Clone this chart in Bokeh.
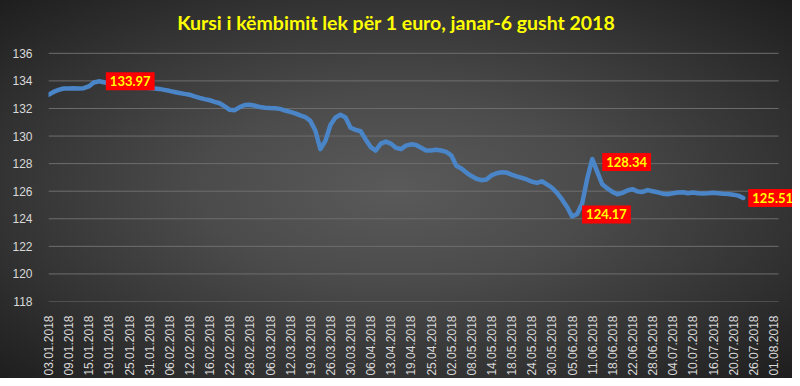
import math
from bokeh.plotting import figure
from bokeh.models import Range1d, FixedTicker, Label, ColumnDataSource
from bokeh.embed import file_html
from bokeh.resources import INLINE

# ---- data ----
tick_labels = ["03.01.2018", "09.01.2018", "15.01.2018", "19.01.2018", "25.01.2018",
               "31.01.2018", "06.02.2018", "12.02.2018", "16.02.2018", "22.02.2018",
               "28.02.2018", "06.03.2018", "12.03.2018", "19.03.2018", "26.03.2018",
               "30.03.2018", "06.04.2018", "13.04.2018", "19.04.2018", "25.04.2018",
               "02.05.2018", "08.05.2018", "14.05.2018", "18.05.2018", "24.05.2018",
               "30.05.2018", "05.06.2018", "11.06.2018", "18.06.2018", "22.06.2018",
               "28.06.2018", "04.07.2018", "10.07.2018", "16.07.2018", "20.07.2018",
               "26.07.2018", "01.08.2018"]
days_per_label = 4

rate = [133.00, 133.20, 133.35, 133.45, 133.45, 133.46, 133.45, 133.47, 133.60, 133.88,
        133.97, 133.90, 133.82, 133.75, 133.70, 133.66, 133.62, 133.58, 133.55, 133.52,
        133.48, 133.45, 133.42, 133.35, 133.28, 133.20, 133.12, 133.06, 133.00, 132.88,
        132.77, 132.68, 132.60, 132.48, 132.38, 132.15, 131.90, 131.88, 132.10, 132.25,
        132.27, 132.20, 132.10, 132.05, 132.03, 132.02, 131.97, 131.85, 131.75, 131.65,
        131.50, 131.38, 131.10, 130.40, 129.05, 129.65, 130.80, 131.35, 131.55, 131.35,
        130.60, 130.45, 130.35, 129.75, 129.20, 128.95, 129.45, 129.60, 129.45, 129.15,
        129.05, 129.30, 129.40, 129.35, 129.15, 128.95, 128.95, 129.00, 128.95, 128.85,
        128.60, 127.85, 127.65, 127.35, 127.10, 126.90, 126.80, 126.85, 127.15, 127.30,
        127.37, 127.35, 127.20, 127.08, 126.97, 126.85, 126.70, 126.60, 126.72, 126.50,
        126.25, 125.88, 125.40, 124.85, 124.17, 124.35, 125.10, 126.90, 128.34, 127.40,
        126.50, 126.20, 125.95, 125.78, 125.88, 126.05, 126.15, 125.98, 125.95, 126.08,
        126.00, 125.92, 125.82, 125.78, 125.85, 125.90, 125.92, 125.85, 125.90, 125.85,
        125.83, 125.85, 125.88, 125.85, 125.82, 125.80, 125.75, 125.68, 125.51]

y_ticks = [118, 120, 122, 124, 126, 128, 130, 132, 134, 136]
title_text = "Kursi i këmbimit lek për 1 euro, janar-6  gusht 2018"

# ---- layout (pixels) ----
W, H = 792, 378
frame_left, frame_bottom_px = 48, 302      # plot area left edge / 118 line
grid_right_px = 778                        # right end of gridlines
top_px = 53                                # 136 line
n_slots = (len(tick_labels) - 1) * days_per_label + 1
px_per_slot = (grid_right_px - frame_left) / n_slots
px_per_unit = (frame_bottom_px - top_px) / (y_ticks[-1] - y_ticks[0])
x_end = (W - frame_left) / px_per_slot
y_end = y_ticks[-1] + top_px / px_per_unit

p = figure(width=W, height=H, output_backend="svg", toolbar_location=None,
           x_range=Range1d(0, x_end), y_range=Range1d(y_ticks[0], y_end),
           min_border_left=frame_left, min_border_right=0, min_border_top=0,
           min_border_bottom=H - frame_bottom_px)

p.background_fill_alpha = 0
p.border_fill_alpha = 0
p.outline_line_color = None
p.styles = {"background": "radial-gradient(ellipse at 50% 50%, #5a5a5a 0%, #4b4b4b 35%, #323232 72%, #1e1e1e 100%)"}

p.xgrid.grid_line_color = None
p.ygrid.grid_line_color = None
# horizontal gridlines limited to the category span
p.segment(x0=[0] * len(y_ticks), x1=[n_slots] * len(y_ticks), y0=y_ticks, y1=y_ticks,
          line_color="#6e6e6e", line_width=1)

p.yaxis.ticker = FixedTicker(ticks=y_ticks)
p.yaxis.axis_line_color = None
p.yaxis.major_tick_line_color = None
p.yaxis.minor_tick_line_color = None
p.yaxis.major_label_standoff = 10
p.yaxis.major_label_text_color = "#d9d9d9"
p.yaxis.major_label_text_font = "Liberation Sans"
p.yaxis.major_label_text_font_size = "12px"

xt = [i * days_per_label for i in range(len(tick_labels))]
p.xaxis.ticker = FixedTicker(ticks=xt)
p.xaxis.major_label_overrides = {t: lab for t, lab in zip(xt, tick_labels)}
p.xaxis.axis_line_color = None
p.xaxis.major_tick_line_color = None
p.xaxis.minor_tick_line_color = None
p.xaxis.major_label_orientation = math.pi / 2
p.xaxis.major_label_standoff = 8
p.xaxis.major_label_text_color = "#d9d9d9"
p.xaxis.major_label_text_font = "Liberation Sans"
p.xaxis.major_label_text_font_size = "12px"

src = ColumnDataSource(dict(x=list(range(len(rate))), y=rate))
p.line("x", "y", source=src, line_width=4.5, line_color="#4a85c8",
       line_join="round", line_cap="round")

# ---- data labels ----
imax = rate.index(max(rate))
imin = rate.index(min(rate))
tail = rate[imin:]
ipeak = imin + tail.index(max(tail))
ilast = len(rate) - 1
for idx, xo, yo in [(imax, 7, 0), (imin, 10, 2), (ipeak, 10, -3), (ilast, 5, 0)]:
    p.add_layout(Label(x=idx, y=rate[idx], text=f"{rate[idx]:.2f}", x_offset=xo, y_offset=yo,
                       text_align="left", text_baseline="middle",
                       text_color="#ffff00", text_font="Lato", text_font_style="bold",
                       text_font_size="13px", background_fill_color="#ff0000",
                       padding=4))

# ---- title ----
title_x = (398 - frame_left) / px_per_slot
title_y = y_ticks[-1] + (top_px - 22) / px_per_unit
p.add_layout(Label(x=title_x, y=title_y, text=title_text,
                   text_align="center", text_baseline="middle", text_color="#ffff00",
                   text_font="Lato", text_font_style="bold", text_font_size="19.5px"))

open("out.html", "w").write(file_html(p, INLINE))
